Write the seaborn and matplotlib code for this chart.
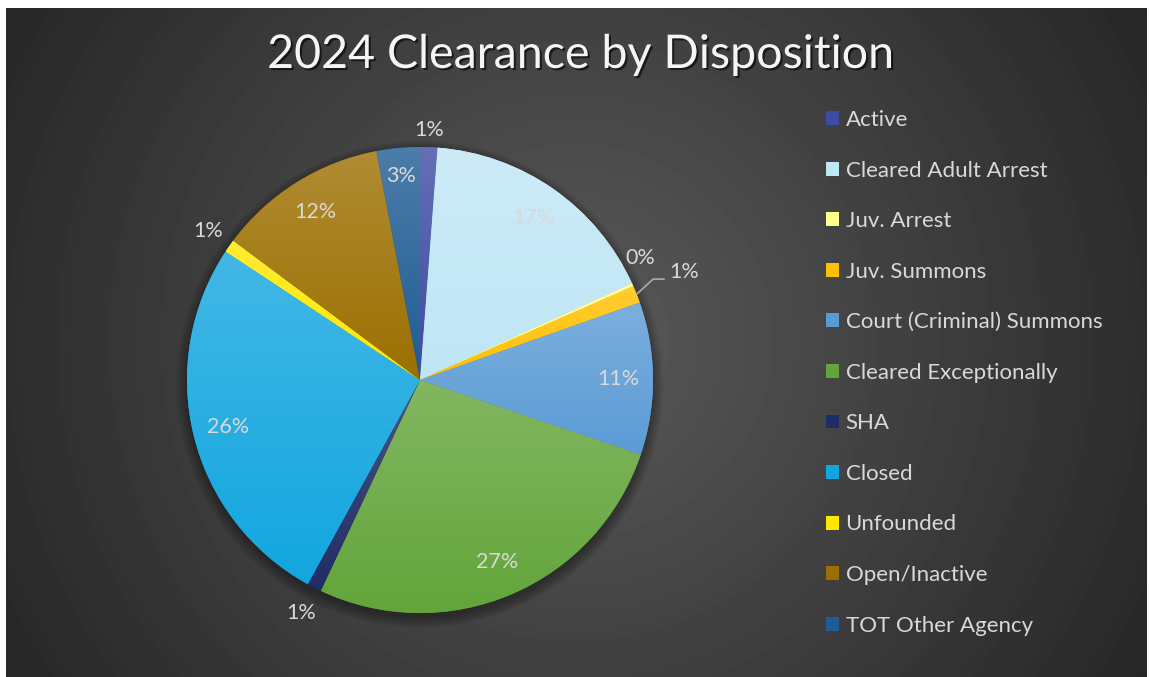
import numpy as np
import matplotlib
matplotlib.use("Agg")
import matplotlib.pyplot as plt
import seaborn as sns
from matplotlib.patches import Patch, Circle
from matplotlib import patheffects as pe
from matplotlib.colors import to_rgb

# ---------------- data ----------------
categories = ["Active", "Cleared Adult Arrest", "Juv. Arrest", "Juv. Summons",
              "Court (Criminal) Summons", "Cleared Exceptionally", "SHA", "Closed",
              "Unfounded", "Open/Inactive", "TOT Other Agency"]
shares = [1.2, 17.0, 0.2, 1.2, 10.6, 26.8, 1.0, 26.3, 0.9, 11.8, 3.0]
colors = ["#3d4ca3", "#bfe6f5", "#ffff8a", "#ffc000", "#5b9bd5", "#63a53a",
          "#1f2c66", "#12a6df", "#ffe800", "#9c6f00", "#1f5c94"]
title = "2024 Clearance by Disposition"

sns.set_theme(style="white")
FONT = ["Lato", "DejaVu Sans"]
plt.rcParams["font.family"] = FONT

W, H = 1150, 677
fig = plt.figure(figsize=(W / 100, H / 100), dpi=100)
fig.patch.set_facecolor("white")

# ---------------- background (radial gradient) ----------------
bg = fig.add_axes([6 / W, 0, (1147 - 6) / W, (677 - 8) / H])
yy, xx = np.mgrid[8:677, 6:1147]
d = np.hypot(xx - 575, yy - 340)
g = (0x5a - (0x5a - 0x26) * np.clip(d / 670, 0, 1)) / 255
bg.imshow(g, cmap="gray", vmin=0, vmax=1, aspect="auto", extent=[0, 1, 0, 1],
          interpolation="bilinear")
bg.set_axis_off()

# ---------------- pie ----------------
cx, cy, R = 420, 380, 233
k = 1.35
ax = fig.add_axes([(cx - k * R) / W, (H - cy - k * R) / H, 2 * k * R / W, 2 * k * R / H])
ax.set_axis_off()
ax.patch.set_alpha(0)

for i in range(10):
    ax.add_patch(Circle((0, -0.018), 1 + 0.005 * i, facecolor="black",
                        edgecolor="none", alpha=0.035, zorder=0))

wedges, _ = ax.pie(shares, colors=colors, startangle=90, counterclock=False,
                   radius=1, wedgeprops=dict(linewidth=0))

for w, c in zip(wedges, colors):
    w.set_zorder(2)
    ext = w.get_path().get_extents()
    base = np.array(to_rgb(c))
    top = base + (1 - base) * 0.2
    t = np.linspace(0, 1, 128)[:, None, None]
    img = top[None, None, :] * (1 - t) + base[None, None, :] * t
    img = np.repeat(img, 2, axis=1)
    im = ax.imshow(img, extent=[ext.x0, ext.x1, ext.y0, ext.y1], origin="upper",
                   aspect="equal", interpolation="bilinear", zorder=2.1)
    im.set_clip_path(w)

total = sum(shares)
label_r = {"Active": 1.075, "Juv. Arrest": 1.08, "SHA": 1.12, "Unfounded": 1.11,
           "TOT Other Agency": 0.88}
label_dang = {"Juv. Arrest": 5.0}
txt_color = "#d9d9d9"
for w, cat, v in zip(wedges, categories, shares):
    pct = f"{100 * v / total:.0f}%"
    mid = (w.theta1 + w.theta2) / 2
    if cat == "Juv. Summons":
        a0 = np.deg2rad(mid)
        a1 = np.deg2rad(mid + 1.8)
        p0 = (np.cos(a0), np.sin(a0))
        p1 = (1.09 * np.cos(a1), 1.09 * np.sin(a1))
        p2 = (p1[0] + 0.05, p1[1])
        ax.plot([p0[0], p1[0], p2[0]], [p0[1], p1[1], p2[1]], color="#a6a6a6",
                lw=1.3, zorder=3, solid_capstyle="butt")
        ax.text(p2[0] + 0.018, p2[1] + 0.03, pct, color=txt_color, fontsize=15.5,
                ha="left", va="center", zorder=4)
        continue
    r = label_r.get(cat, 0.85)
    a = np.deg2rad(mid + label_dang.get(cat, 0.0))
    ax.text(r * np.cos(a), r * np.sin(a), pct, color=txt_color, fontsize=15.5,
            ha="center", va="center", zorder=4)

ax.set_xlim(-k, k)
ax.set_ylim(-k, k)

# ---------------- title ----------------
fig.text(580 / W, 1 - 55 / H, title, color="#f5f5f5", fontsize=33.5, ha="center",
         va="center",
         path_effects=[pe.withSimplePatchShadow(offset=(1.5, -1.5), shadow_rgbFace="black",
                                                alpha=0.6)])

# ---------------- legend ----------------
handles = [Patch(facecolor=c, edgecolor="none") for c in colors]
leg = fig.legend(handles, categories, loc="upper left",
                 bbox_to_anchor=(826 / W, 1 - 110 / H), frameon=False, fontsize=16,
                 labelcolor="#d9d9d9", handlelength=0.58, handleheight=0.58,
                 handletextpad=0.3, labelspacing=1.375, borderaxespad=0, borderpad=0)

fig.savefig("out.png", dpi=100, facecolor=fig.get_facecolor())
